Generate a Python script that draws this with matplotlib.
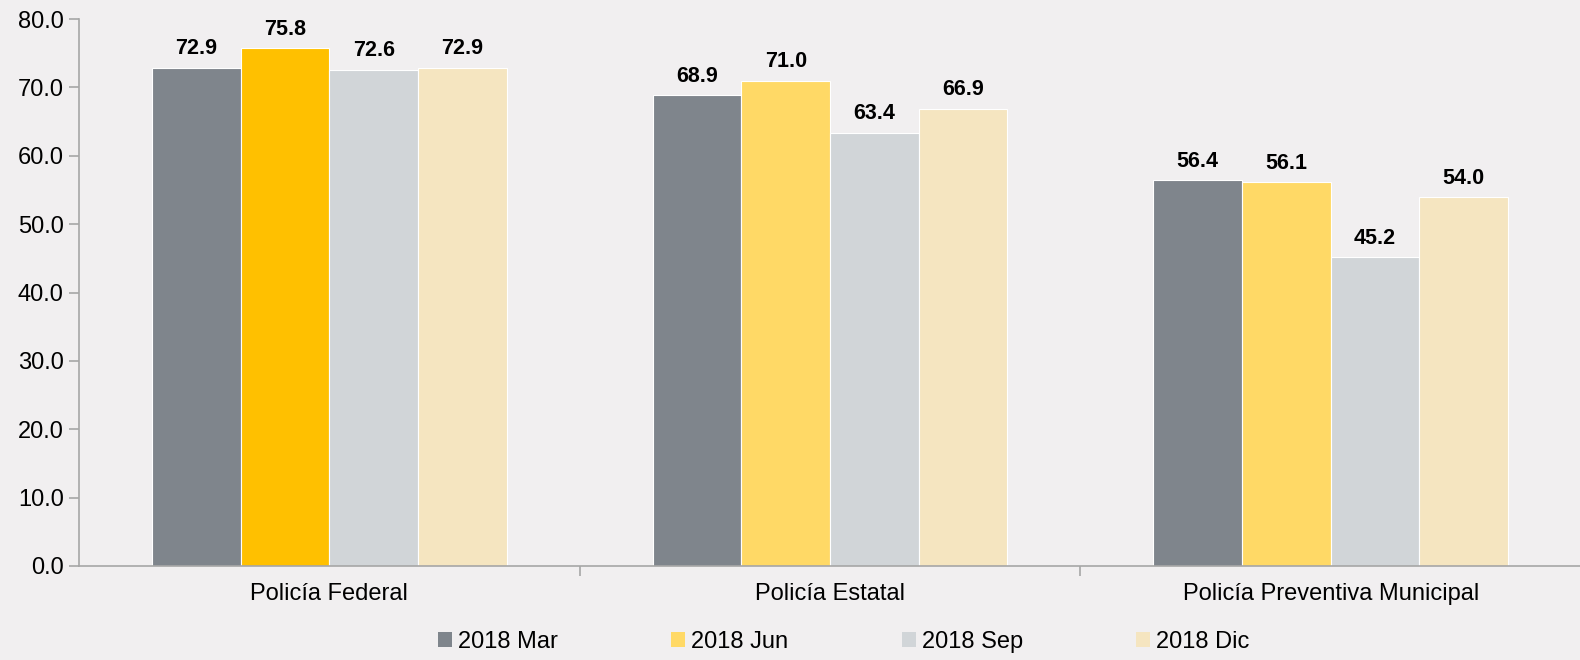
import numpy as np
from matplotlib import pyplot as plt
from matplotlib.patches import Patch

categorias = ['Policía Federal', 'Policía Estatal', 'Policía Preventiva Municipal']
series = ['2018 Mar', '2018 Jun', '2018 Sep', '2018 Dic']
mar = [72.9, 68.9, 56.4]
jun = [75.8, 71.0, 56.1]
sep = [72.6, 63.4, 45.2]
dic = [72.9, 66.9, 54.0]

colores = ['#7F858C', '#FFD966', '#D1D5D8', '#F5E5C0']
color_destacado = '#FFC000'  # Jun de Policía Federal
fondo = '#F1EFF0'

plt.rcParams['font.family'] = ['Liberation Sans', 'DejaVu Sans']

fig = plt.figure(figsize=(15.8, 6.6), dpi=100, facecolor=fondo)
ax = fig.add_axes([79 / 1580, 1 - 566 / 660, 1502 / 1580, 547 / 660])
ax.set_facecolor(fondo)

x = np.arange(len(categorias))
ancho = 0.177
datos = [mar, jun, sep, dic]
for i, (nombre, valores) in enumerate(zip(series, datos)):
    cols = [colores[i]] * len(categorias)
    if nombre == '2018 Jun':
        cols[0] = color_destacado
    pos = x + (i - 1.5) * ancho
    barras = ax.bar(pos, valores, ancho, color=cols, edgecolor='white', linewidth=0.8)
    for b, v in zip(barras, valores):
        ax.text(b.get_x() + b.get_width() / 2, v + 1.2, f'{v:.1f}',
                ha='center', va='bottom', fontsize=15.5, fontweight='bold')

ax.set_xlim(-0.5, len(categorias) - 0.5)
ax.set_ylim(0, 80)
ax.set_yticks(np.arange(0, 81, 10))
ax.set_yticklabels([f'{t:.1f}' for t in np.arange(0, 81, 10)], fontsize=17)

ax.set_xticks(x)
ax.set_xticklabels(categorias, fontsize=17)
ax.tick_params(axis='x', length=0, pad=12)
ax.set_xticks(np.arange(0.5, len(categorias) - 0.5, 1), minor=True)
ax.tick_params(axis='x', which='minor', length=7, color='#A6A6A6', width=1.2)
ax.tick_params(axis='y', length=7, color='#A6A6A6', width=1.2, pad=4)

for s in ['top', 'right']:
    ax.spines[s].set_visible(False)
for s in ['left', 'bottom']:
    ax.spines[s].set_color('#A6A6A6')
    ax.spines[s].set_linewidth(1.2)

handles = [Patch(facecolor=c, edgecolor='none') for c in colores]
fig.legend(handles, series, loc='center', bbox_to_anchor=(0.534, 0.028), ncol=4,
           frameon=False, fontsize=17, handlelength=0.6, handleheight=0.6,
           handletextpad=0.25, columnspacing=4.8)

fig.savefig('out.png', dpi=100, facecolor=fondo)
